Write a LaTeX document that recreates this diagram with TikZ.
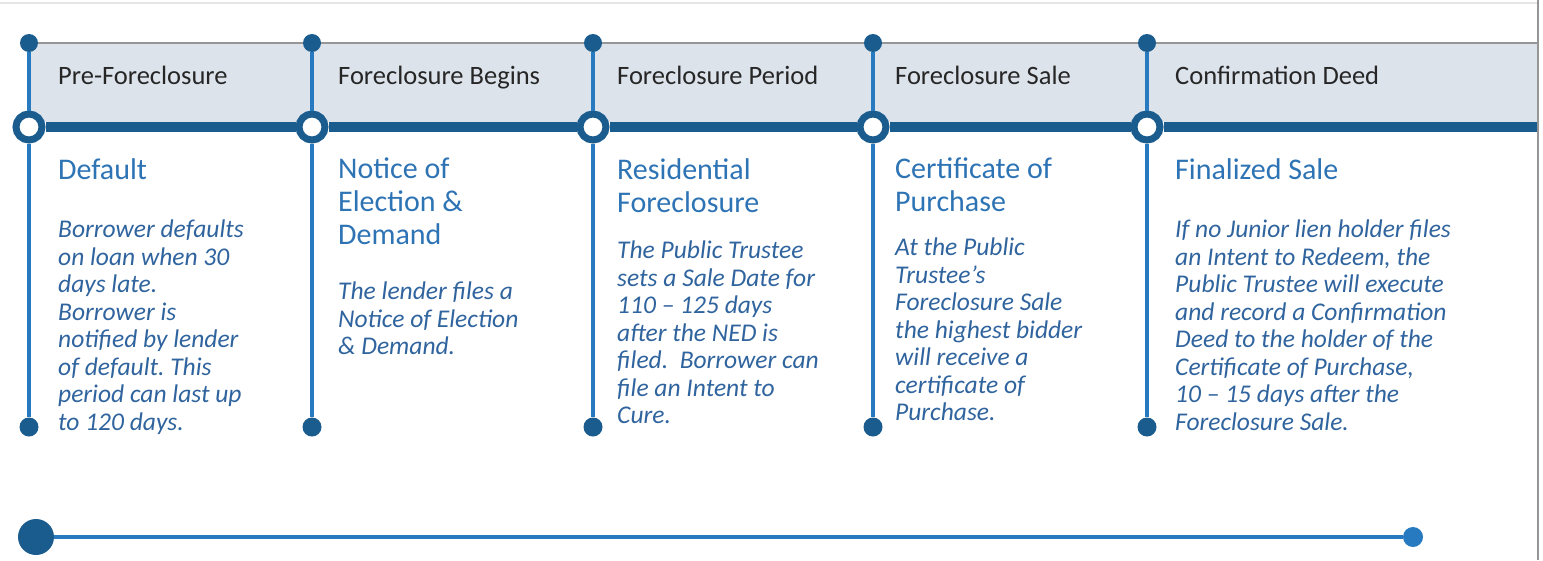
\documentclass[tikz,border=0pt]{standalone}
\usepackage{fontspec}
\setmainfont{Carlito}
\usepackage{tikz}
\usetikzlibrary{positioning}
\frenchspacing

\definecolor{darkblue}{RGB}{27,92,142}
\definecolor{midblue}{RGB}{40,122,192}
\definecolor{titleblue}{RGB}{46,116,181}
\definecolor{bodyblue}{RGB}{48,100,158}
\definecolor{headfill}{RGB}{220,227,235}
\definecolor{headtext}{RGB}{38,38,38}
\definecolor{framegray}{RGB}{150,150,150}

\tikzset{
	head/.style={anchor=base west, inner sep=0pt, text=headtext, font=\fontsize{26.5}{30}\selectfont},
	title/.style={anchor=north west, inner sep=0pt, align=left, text=titleblue, font=\fontsize{30}{33}\selectfont},
	body/.style={anchor=north west, inner sep=0pt, align=left, text=bodyblue, font=\fontsize{25.5}{27.5}\selectfont\itshape},
	topdot/.style={circle, fill=darkblue, inner sep=0pt, minimum size=18pt},
	botdot/.style={circle, fill=darkblue, inner sep=0pt, minimum size=19pt},
	ring/.style={circle, draw=darkblue, line width=7pt, fill=white, inner sep=0pt, minimum size=26pt},
	vline/.style={midblue, line width=3.5pt},
	thickline/.style={darkblue, line width=10pt},
}

\begin{document}
\begin{tikzpicture}[x=1pt,y=1pt]
	\useasboundingbox (0,0) rectangle (1543,-560);
	\fill[white] (0,0) rectangle (1543,-560);
	\draw[black!10, line width=1.5pt] (0,-3) -- (1538,-3);
	\draw[framegray, line width=2pt] (1538,0) -- (1538,-560);

	% header band
	\fill[headfill] (29,-43) rectangle (1537,-122);
	\draw[framegray, line width=2pt] (29,-43) -- (1537,-43);

	\node[topdot] (t1) at (29,-43) {};
	\node[topdot] (t2) at (312,-43) {};
	\node[topdot] (t3) at (593,-43) {};
	\node[topdot] (t4) at (873,-43) {};
	\node[topdot] (t5) at (1147,-43) {};
	\node[ring] (r1) at (29,-127) {};
	\node[ring] (r2) at (312,-127) {};
	\node[ring] (r3) at (593,-127) {};
	\node[ring] (r4) at (873,-127) {};
	\node[ring] (r5) at (1147,-127) {};
	\node[botdot] (b1) at (29,-427) {};
	\node[botdot] (b2) at (312,-427) {};
	\node[botdot] (b3) at (593,-427) {};
	\node[botdot] (b4) at (873,-427) {};
	\node[botdot] (b5) at (1147,-427) {};
	\coordinate (rend) at (1537,-127);

	\draw[thickline] (r1) -- (r2) -- (r3) -- (r4) -- (r5) -- (rend);
	\draw[vline] (t1) -- (r1) -- (b1);
	\draw[vline] (t2) -- (r2) -- (b2);
	\draw[vline] (t3) -- (r3) -- (b3);
	\draw[vline] (t4) -- (r4) -- (b4);
	\draw[vline] (t5) -- (r5) -- (b5);

	% stage names
	\node[head] (h1) at (58,-84) {Pre-Foreclosure};
	\node[head] (h2) at (338,-84) {Foreclosure Begins};
	\node[head] (h3) at (617,-84) {Foreclosure Period};
	\node[head] (h4) at (895,-84) {Foreclosure Sale};
	\node[head] (h5) at (1175,-84) {Confirmation Deed};

	% events
	\node[title] (s1) at (58,-158) {Default};
	\node[title] (s2) at (338,-158) {Notice of\\Election \&\\Demand};
	\node[title] (s3) at (617,-158) {Residential\\Foreclosure};
	\node[title] (s4) at (895,-158) {Certificate of\\Purchase};
	\node[title] (s5) at (1175,-158) {Finalized Sale};

	\node[body] (d1) at (58,-220) {Borrower defaults\\on loan when 30\\days late.\\Borrower is\\notified by lender\\of default. This\\period can last up\\to 120 days.};
	\node[body] (d2) at (338,-282) {The lender files a\\Notice of Election\\\& Demand.};
	\node[body] (d3) at (617,-241) {The Public Trustee\\sets a Sale Date for\\110 -- 125 days\\after the NED is\\filed.\ \ Borrower can\\file an Intent to\\Cure.};
	\node[body] (d4) at (895,-238) {At the Public\\Trustee’s\\Foreclosure Sale\\the highest bidder\\will receive a\\certificate of\\Purchase.};
	\node[body] (d5) at (1175,-220) {If no Junior lien holder files\\an Intent to Redeem, the\\Public Trustee will execute\\and record a Confirmation\\Deed to the holder of the\\Certificate of Purchase,\\10 -- 15 days after the\\Foreclosure Sale.};

	% progress bar
	\node[circle, fill=darkblue, inner sep=0pt, minimum size=36pt] (p0) at (36,-537) {};
	\node[circle, fill=midblue, inner sep=0pt, minimum size=20pt] (p1) at (1413,-537) {};
	\draw[midblue, line width=4pt] (p0) -- (p1);
\end{tikzpicture}
\end{document}
